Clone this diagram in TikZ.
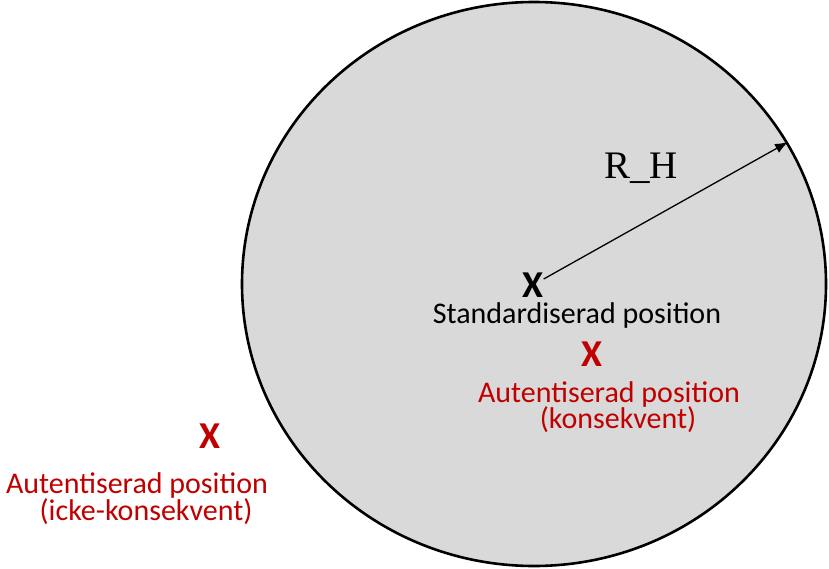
\documentclass[tikz,border=0pt]{standalone}
\usepackage{fontspec}
\setmainfont{Carlito}
\newfontfamily\serifrh{Liberation Serif}
\usetikzlibrary{arrows.meta}
\definecolor{darkred}{HTML}{C00000}
\definecolor{discgray}{HTML}{D9D9D9}
\tikzset{
  mark x/.style={inner sep=0pt, anchor=center, font=\fontsize{38}{38}\selectfont\bfseries},
  lbl/.style={inner sep=0pt, anchor=base, font=\fontsize{30}{30}\selectfont},
}
\begin{document}
\begin{tikzpicture}[x=1pt,y=-1pt]
\useasboundingbox (0,0) rectangle (829,569);
\draw[line width=2.6pt, fill=discgray] (534,284) ellipse [x radius=292, y radius=282];
\node[mark x] (sx) at (533,285) {X};
\coordinate (tip) at (788,142);
\draw[line width=1.3pt, -{Latex[length=13pt,width=10pt]}] (sx) -- (tip);
\node[inner sep=0pt, anchor=base, font=\serifrh\fontsize{39}{39}\selectfont] (rh) at (641,179) {R\_H};
\node[lbl] (std) at (577,323) {Standardiserad position};
\node[mark x, text=darkred] (cx) at (592,354) {X};
\node[lbl, text=darkred] (c1) at (609,402) {Autentiserad position};
\node[lbl, text=darkred] (c2) at (618,428) {(konsekvent)};
\node[mark x, text=darkred] (ix) at (210,436) {X};
\node[lbl, text=darkred] (i1) at (137,493) {Autentiserad position};
\node[lbl, text=darkred] (i2) at (146,520) {(icke-konsekvent)};
\end{tikzpicture}
\end{document}
